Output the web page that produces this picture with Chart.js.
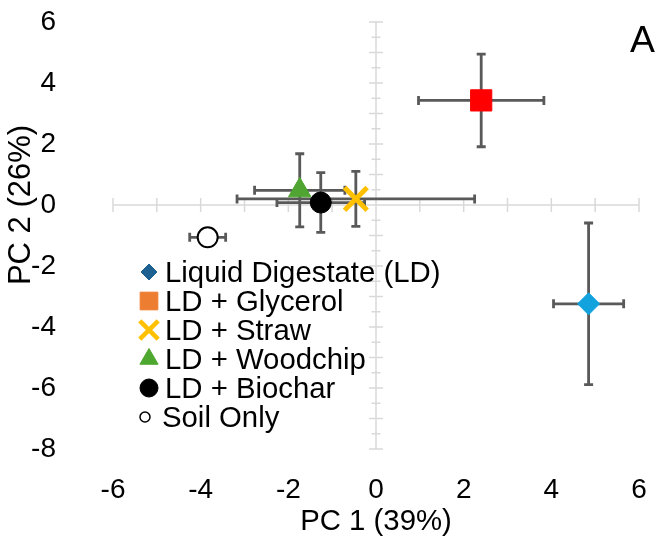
<!DOCTYPE html>
<html>
<head>
<meta charset="utf-8">
<style>
  html, body { margin: 0; padding: 0; background: #ffffff; }
  #wrap { width: 660px; height: 541px; }
</style>
<script src="https://cdn.jsdelivr.net/npm/chart.js@4.4.1/dist/chart.umd.min.js"></script>
</head>
<body>
<div id="wrap"><canvas id="c" width="660" height="541"></canvas></div>
<script>
// ---------------- data ----------------
const seriesNames = ['Liquid Digestate (LD)', 'LD + Glycerol', 'LD + Straw', 'LD + Woodchip', 'LD + Biochar', 'Soil Only'];
const pc1Values = [4.85, 2.40, -0.46, -1.74, -1.26, -3.84];
const pc2Values = [-3.24, 3.43, 0.20, 0.48, 0.08, -1.06];
const pc1Errors = [0.80, 1.43, 2.71, 1.03, 1.00, 0.41];
const pc2Errors = [2.65, 1.52, 0.90, 1.20, 0.98, 0.20];
const xTickLabels = [-6, -4, -2, 0, 2, 4, 6];
const yTickLabels = [-8, -6, -4, -2, 0, 2, 4, 6];
const xMinorTicks = [-6, -5, -4, -3, -2, -1, 0, 1, 2, 3, 4, 5, 6];
const yMinorTicks = [-8, -7.5, -7, -6.5, -6, -5.5, -5, -4.5, -4, -3.5, -3, -2.5, -2, -1.5, -1, -0.5, 0,
                     0.5, 1, 1.5, 2, 2.5, 3, 3.5, 4, 4.5, 5, 5.5, 6];
const xTitle = 'PC 1 (39%)';
const yTitle = 'PC 2 (26%)';
const panelLabel = 'A';

// ---------------- styles ----------------
const FONT = "'Liberation Sans', Arial, sans-serif";
const tickFont = { family: FONT, size: 28 };
const titleFont = { family: FONT, size: 29.33 };
const markerStyles = [
  { pointStyle: 'rectRot',  radius: 11,   bg: '#12A2DD', border: '#12A2DD', bw: 1 },
  { pointStyle: 'rect',     radius: 15,   bg: '#FF0000', border: '#FF0000', bw: 1 },
  { pointStyle: 'crossRot', radius: 16,   bg: '#FFC000', border: '#FFC000', bw: 5 },
  { pointStyle: 'triangle', radius: 13,   bg: '#50A532', border: '#50A532', bw: 1 },
  { pointStyle: 'circle',   radius: 10.5, bg: '#000000', border: '#000000', bw: 1 },
  { pointStyle: 'circle',   radius: 10,   bg: '#FFFFFF', border: '#000000', bw: 2 }
];
const legendStyles = [
  { pointStyle: 'rectRot',  radius: 8,    bg: '#1D6190', border: '#1D6190', bw: 1 },
  { pointStyle: 'rect',     radius: 12.5, bg: '#ED7D31', border: '#ED7D31', bw: 1 },
  { pointStyle: 'crossRot', radius: 13,   bg: '#FFC000', border: '#FFC000', bw: 4.5 },
  { pointStyle: 'triangle', radius: 10.5, bg: '#4EA72E', border: '#4EA72E', bw: 1 },
  { pointStyle: 'circle',   radius: 9,    bg: '#000000', border: '#000000', bw: 1 },
  { pointStyle: 'circle',   radius: 5,    bg: '#FFFFFF', border: '#000000', bw: 1.5 }
];

const datasets = seriesNames.map((name, i) => ({
  label: name,
  data: [{ x: pc1Values[i], y: pc2Values[i] }],
  pointStyle: markerStyles[i].pointStyle,
  pointRadius: markerStyles[i].radius,
  pointHoverRadius: markerStyles[i].radius,
  backgroundColor: markerStyles[i].bg,
  borderColor: markerStyles[i].border,
  pointBorderWidth: markerStyles[i].bw,
  showLine: false
}));

// axes crossing at zero, with tick marks
const crossAxesPlugin = {
  id: 'crossAxes',
  beforeDatasetsDraw(chart) {
    const { ctx, scales: { x, y } } = chart;
    const x0 = x.getPixelForValue(0), y0 = y.getPixelForValue(0);
    ctx.save();
    ctx.strokeStyle = '#D9D9D9';
    ctx.lineWidth = 1.5;
    ctx.beginPath();
    ctx.moveTo(x.getPixelForValue(-6), y0); ctx.lineTo(x.getPixelForValue(6), y0);
    ctx.moveTo(x0, y.getPixelForValue(6)); ctx.lineTo(x0, y.getPixelForValue(-8));
    xMinorTicks.forEach(v => {
      const px = x.getPixelForValue(v);
      ctx.moveTo(px, y0 - 7); ctx.lineTo(px, y0 + 7);
    });
    yMinorTicks.forEach(v => {
      const py = y.getPixelForValue(v);
      const len = Number.isInteger(v) ? 7 : 4.5;
      ctx.moveTo(x0 - len, py); ctx.lineTo(x0 + len, py);
    });
    ctx.stroke();
    ctx.restore();
  }
};

// error bars
const errorBarsPlugin = {
  id: 'errorBars',
  beforeDatasetsDraw(chart) {
    const { ctx, scales: { x, y } } = chart;
    ctx.save();
    ctx.strokeStyle = '#595959';
    ctx.lineWidth = 2.8;
    ctx.lineCap = 'butt';
    const cap = 4.5;
    seriesNames.forEach((n, i) => {
      const cx = x.getPixelForValue(pc1Values[i]);
      const cy = y.getPixelForValue(pc2Values[i]);
      const xl = x.getPixelForValue(pc1Values[i] - pc1Errors[i]);
      const xr = x.getPixelForValue(pc1Values[i] + pc1Errors[i]);
      const yt = y.getPixelForValue(pc2Values[i] + pc2Errors[i]);
      const yb = y.getPixelForValue(pc2Values[i] - pc2Errors[i]);
      ctx.beginPath();
      ctx.moveTo(xl, cy); ctx.lineTo(xr, cy);
      ctx.moveTo(xl, cy - cap); ctx.lineTo(xl, cy + cap);
      ctx.moveTo(xr, cy - cap); ctx.lineTo(xr, cy + cap);
      ctx.moveTo(cx, yt); ctx.lineTo(cx, yb);
      ctx.moveTo(cx - cap, yt); ctx.lineTo(cx + cap, yt);
      ctx.moveTo(cx - cap, yb); ctx.lineTo(cx + cap, yb);
      ctx.stroke();
    });
    ctx.restore();
  }
};

function drawMarker(ctx, st, mx, my) {
  ctx.fillStyle = st.bg;
  ctx.strokeStyle = st.border;
  ctx.lineWidth = st.bw;
  if (Chart.helpers && Chart.helpers.drawPoint) {
    Chart.helpers.drawPoint(ctx, { pointStyle: st.pointStyle, radius: st.radius, borderWidth: st.bw, rotation: 0 }, mx, my);
  } else {
    ctx.beginPath(); ctx.arc(mx, my, st.radius, 0, Math.PI * 2); ctx.fill(); ctx.stroke();
  }
}

// legend inside plot area, panel letter and vertical axis title
const legendPlugin = {
  id: 'innerLegend',
  afterDatasetsDraw(chart) {
    const ctx = chart.ctx;
    ctx.save();
    seriesNames.forEach((name, i) => {
      const base = 282 + i * 29;
      const last = i === seriesNames.length - 1;
      drawMarker(ctx, legendStyles[i], last ? 145 : 149, base - 10);
      ctx.fillStyle = '#000000';
      ctx.font = "29.33px " + FONT;
      ctx.textAlign = 'left';
      ctx.textBaseline = 'alphabetic';
      ctx.fillText(name, last ? 162 : 165, base);
    });
    ctx.font = "37.33px " + FONT;
    ctx.textAlign = 'right';
    ctx.fillText(panelLabel, 655, 52);
    // vertical axis title
    ctx.translate(21, 205);
    ctx.rotate(-Math.PI / 2);
    ctx.font = "31px " + FONT;
    ctx.textAlign = 'center';
    ctx.textBaseline = 'middle';
    ctx.fillText(yTitle, 0, 0);
    ctx.restore();
  }
};

new Chart(document.getElementById('c'), {
  type: 'scatter',
  data: { datasets },
  options: {
    responsive: false,
    animation: false,
    devicePixelRatio: 1,
    layout: { padding: { top: 22, right: 13, left: 0, bottom: 0 } },
    plugins: { legend: { display: false }, tooltip: { enabled: false } },
    scales: {
      x: {
        type: 'linear', min: -6, max: 6,
        afterBuildTicks(s) { s.ticks = xTickLabels.map(v => ({ value: v })); },
        afterFit(s) { s.height = 92; },
        ticks: { font: tickFont, color: '#000000', padding: 0, maxRotation: 0, autoSkip: false },
        grid: { display: false, drawTicks: true, tickLength: 24 },
        border: { display: false },
        title: { display: true, text: xTitle, font: titleFont, color: '#000000', padding: { top: 0, bottom: 1 } }
      },
      y: {
        type: 'linear', min: -8, max: 6,
        afterBuildTicks(s) { s.ticks = yTickLabels.map(v => ({ value: v })); },
        afterFit(s) { s.width = 113; },
        ticks: { font: tickFont, color: '#000000', padding: 0, autoSkip: false },
        grid: { display: false, drawTicks: true, tickLength: 57 },
        border: { display: false },
        title: { display: false, text: yTitle }
      }
    }
  },
  plugins: [crossAxesPlugin, errorBarsPlugin, legendPlugin]
});
</script>
</body>
</html>
